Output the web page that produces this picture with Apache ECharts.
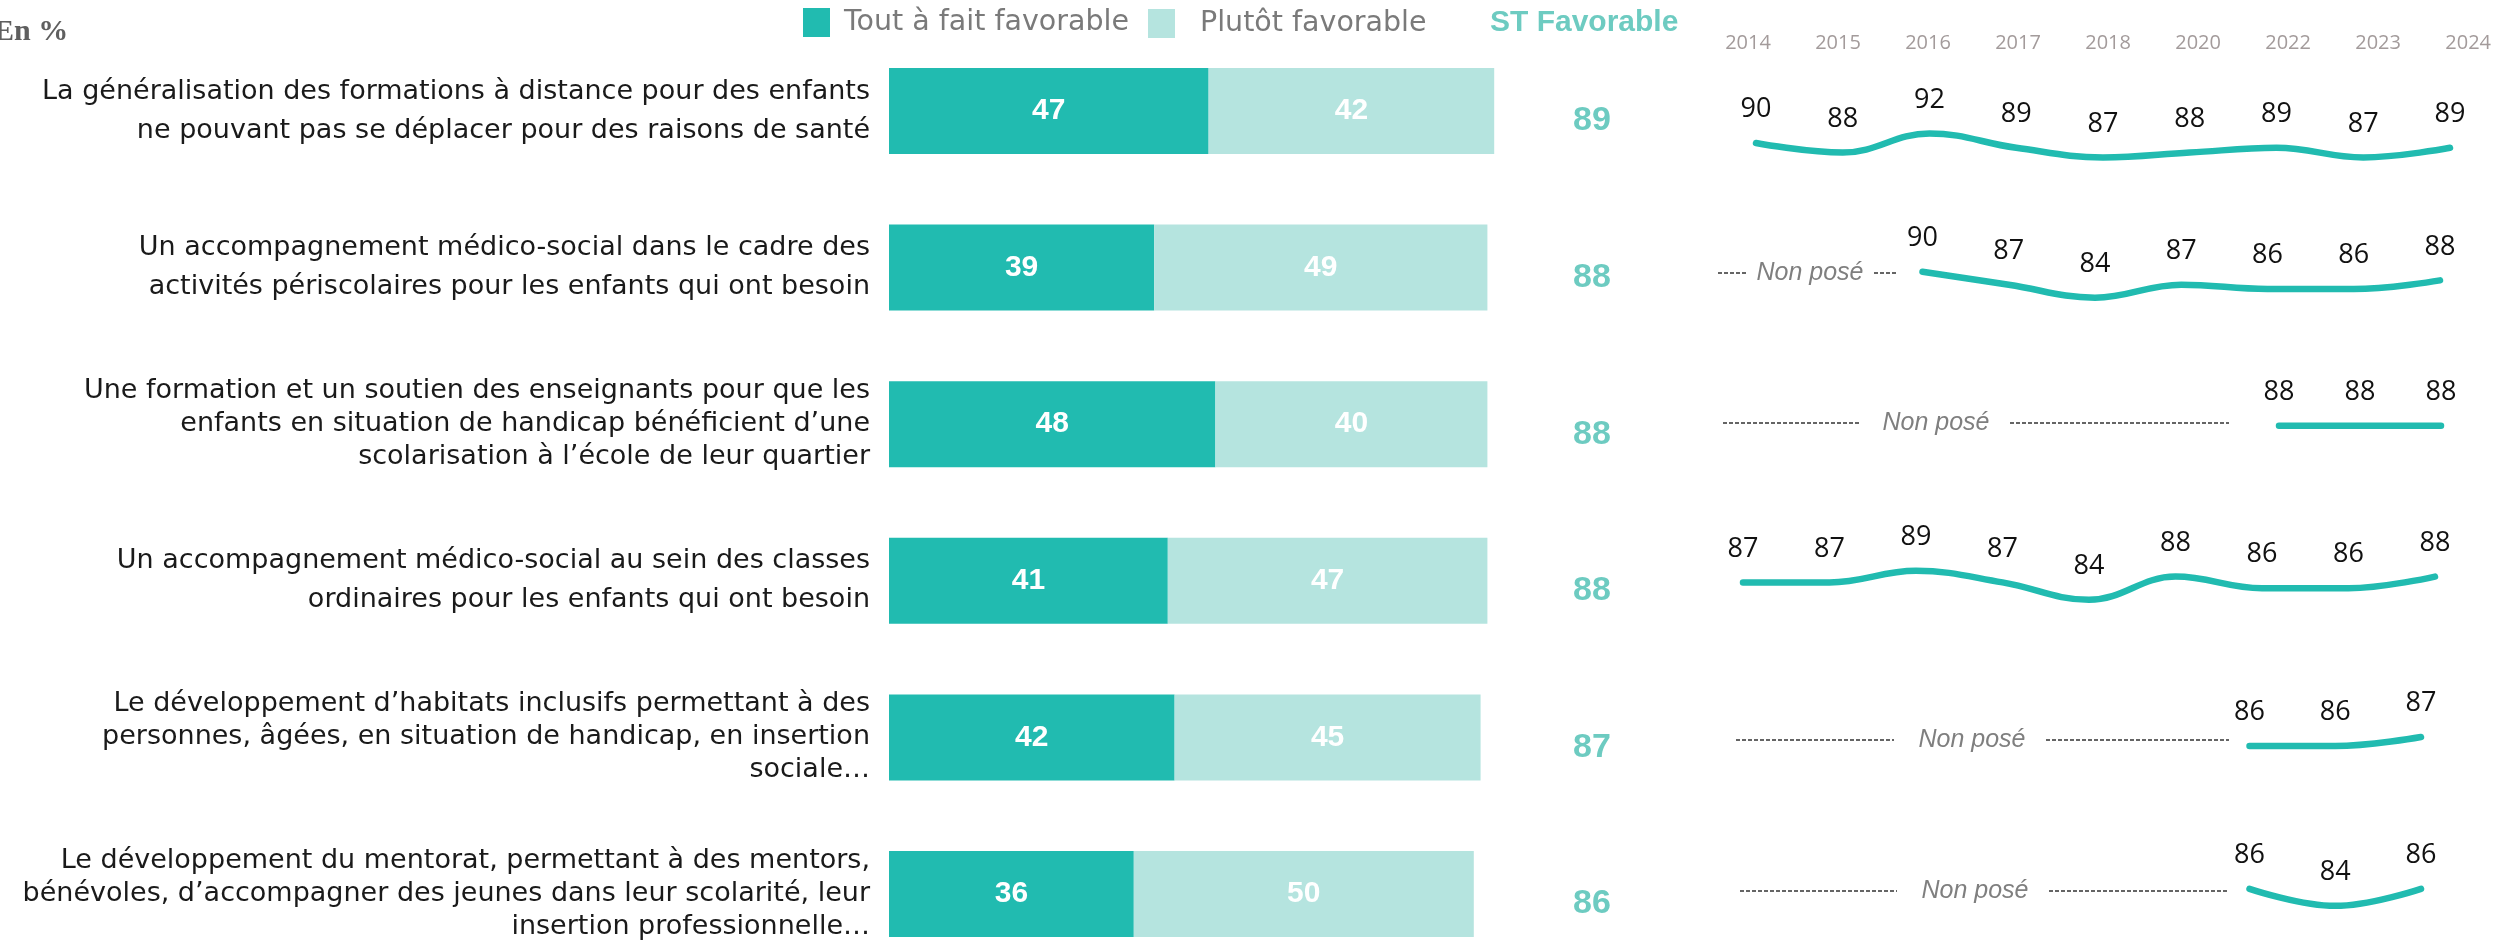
<!DOCTYPE html>
<html>
<head>
<meta charset="utf-8">
<script src="https://cdn.jsdelivr.net/npm/echarts@6/dist/echarts.min.js"></script>
<style>
  html, body { margin: 0; padding: 0; background: #fff; }
  #main { width: 2494px; height: 943px; }
</style>
</head>
<body>
<div id="main"></div>
<script>
// data
const categories = [
  "La généralisation des formations à distance pour des enfants\nne pouvant pas se déplacer pour des raisons de santé",
  "Un accompagnement médico-social dans le cadre des\nactivités périscolaires pour les enfants qui ont besoin",
  "Une formation et un soutien des enseignants pour que les\nenfants en situation de handicap bénéficient d’une\nscolarisation à l’école de leur quartier",
  "Un accompagnement médico-social au sein des classes\nordinaires pour les enfants qui ont besoin",
  "Le développement d’habitats inclusifs permettant à des\npersonnes, âgées, en situation de handicap, en insertion\nsociale…",
  "Le développement du mentorat, permettant à des mentors,\nbénévoles, d’accompagner des jeunes dans leur scolarité, leur\ninsertion professionnelle…"
];
const toutAFait = [47, 39, 48, 41, 42, 36];
const plutot = [42, 49, 40, 47, 45, 50];
const stFavorable = [89, 88, 88, 88, 87, 86];

const years = ["2014", "2015", "2016", "2017", "2018", "2020", "2022", "2023", "2024"];
const trend1 = [90, 88, 92, 89, 87, 88, 89, 87, 89];
const trend2 = [null, null, 90, 87, 84, 87, 86, 86, 88];
const trend3 = [null, null, null, null, null, null, 88, 88, 88];
const trend4 = [87, 87, 89, 87, 84, 88, 86, 86, 88];
const trend5 = [null, null, null, null, null, null, 86, 86, 87];
const trend6 = [null, null, null, null, null, null, 86, 84, 86];
const trends = [trend1, trend2, trend3, trend4, trend5, trend6];

// layout of the small trend charts (one grid per row)
const rowGrids = [
  { left: 1756, width: 694, top: 119, height: 72 },
  { left: 1750, width: 690, top: 250, height: 65 },
  { left: 1793, width: 648, top: 394, height: 68 },
  { left: 1743, width: 692, top: 536, height: 87 },
  { left: 1735, width: 686, top: 665, height: 135 },
  { left: 1735, width: 686, top: 812, height: 128 }
];
// "Non posé" annotations: text centre, dashed segments
const nonPose = [
  { y: 273, x: 1810, dashes: [[1718, 1746], [1874, 1897]] },
  { y: 423, x: 1936, dashes: [[1723, 1860], [2010, 2229]] },
  { y: 740, x: 1972, dashes: [[1736, 1894], [2046, 2229]] },
  { y: 891, x: 1975, dashes: [[1740, 1897], [2049, 2229]] }
];

const TEAL = "#21bbb0";
const LIGHT = "#b5e4df";
const TXT_FONT = "'DejaVu Sans', 'Open Sans', sans-serif";
const NUM_FONT = "'Open Sans', 'Noto Sans', sans-serif";
const BOLD_FONT = "'Liberation Sans', Arial, sans-serif";

const chart = echarts.init(document.getElementById("main"));

// bar grid: first and last category sit on the grid edges
const grids = [{ left: 889, top: 111, width: 680, height: 783 }];
const xAxes = [{ type: "value", gridIndex: 0, min: 0, max: 100, show: false }];
const yAxes = [
  {
    type: "category", gridIndex: 0, inverse: true, data: categories, boundaryGap: false,
    axisLine: { show: false }, axisTick: { show: false },
    axisLabel: {
      interval: 0, margin: 19, color: "#1a1a1a",
      formatter: (v) => (v.split("\n").length > 2 ? "{t|" + v + "}" : "{d|" + v + "}"),
      rich: {
        d: { fontSize: 27, lineHeight: 39, fontFamily: TXT_FONT, color: "#1a1a1a", align: "right" },
        t: { fontSize: 27, lineHeight: 33, fontFamily: TXT_FONT, color: "#1a1a1a", align: "right" }
      }
    }
  },
  {
    type: "category", gridIndex: 0, inverse: true, position: "right", data: categories, boundaryGap: false,
    axisLine: { show: false }, axisTick: { show: false },
    axisLabel: {
      interval: 0, margin: 23, align: "center", verticalAlign: "top", lineHeight: 20,
      formatter: (v, i) => String(stFavorable[i]),
      color: "#6dcbc1", fontWeight: "bold", fontSize: 34, fontFamily: BOLD_FONT
    }
  }
];

const barLabel = { show: true, position: "inside", color: "#fff", fontWeight: "bold", fontSize: 30, fontFamily: BOLD_FONT };
const series = [
  {
    name: "Tout à fait favorable", type: "bar", stack: "fav", barWidth: 86, clip: false,
    xAxisIndex: 0, yAxisIndex: 0, data: toutAFait,
    itemStyle: { color: TEAL }, label: barLabel
  },
  {
    name: "Plutôt favorable", type: "bar", stack: "fav", barWidth: 86, clip: false,
    xAxisIndex: 0, yAxisIndex: 0, data: plutot,
    itemStyle: { color: LIGHT }, label: barLabel
  }
];

rowGrids.forEach((g, i) => {
  grids.push(g);
  xAxes.push({
    type: "category", gridIndex: i + 1, data: years, boundaryGap: false, show: false
  });
  yAxes.push({ type: "value", gridIndex: i + 1, min: 80, max: 95, show: false });
  series.push({
    type: "line", xAxisIndex: i + 1, yAxisIndex: i + 2, data: trends[i],
    smooth: 0.4, symbol: "circle", symbolSize: 2, showSymbol: true,
    itemStyle: { color: "rgba(0,0,0,0)" },
    lineStyle: { color: TEAL, width: 6.5, cap: "round" },
    label: { show: true, position: "top", distance: 19, fontSize: 27, color: "#111", fontFamily: NUM_FONT }
  });
});

// year header
grids.push({ left: 1748, width: 721, top: 43, height: 10 });
xAxes.push({
  type: "category", gridIndex: 7, position: "top", data: years, boundaryGap: false,
  axisLine: { show: false }, axisTick: { show: false },
  axisLabel: { interval: 0, margin: 0, verticalAlign: "middle", fontSize: 20, color: "#a39b9b", fontFamily: NUM_FONT }
});
yAxes.push({ type: "value", gridIndex: 7, show: false });

const graphics = [];
nonPose.forEach((n) => {
  n.dashes.forEach((d) => {
    graphics.push({
      type: "line", shape: { x1: d[0], y1: n.y, x2: d[1], y2: n.y },
      style: { stroke: "#333", lineWidth: 1.5, lineDash: [4, 2] }
    });
  });
  graphics.push({
    type: "text", x: n.x, y: n.y,
    style: {
      text: "Non posé", fill: "#7f7f7f", font: "italic 25px 'Liberation Sans', Arial, sans-serif",
      align: "center", verticalAlign: "middle"
    }
  });
});

chart.setOption({
  animation: false,
  backgroundColor: "#fff",
  title: [
    { text: "En %", left: -6, top: 17, padding: 0,
      textStyle: { fontFamily: "'Liberation Serif', serif", fontWeight: "bold", fontSize: 30, color: "#5f5f5f" } },
    { text: "ST Favorable", left: 1490, top: 8, padding: 0,
      textStyle: { fontFamily: BOLD_FONT, fontWeight: "bold", fontSize: 30, color: "#6dcbc1" } }
  ],
  legend: [
    { data: ["Tout à fait favorable"], left: 803, top: 8, padding: 0, icon: "rect",
      itemWidth: 27, itemHeight: 29,
      textStyle: { fontSize: 28.5, color: "#7a7a7a", fontFamily: TXT_FONT, padding: [0, 0, 0, 9] } },
    { data: ["Plutôt favorable"], left: 1148, top: 9, padding: 0, icon: "rect",
      itemWidth: 27, itemHeight: 29,
      textStyle: { fontSize: 28.5, color: "#7a7a7a", fontFamily: TXT_FONT, padding: [0, 0, 0, 20] } }
  ],
  grid: grids,
  xAxis: xAxes,
  yAxis: yAxes,
  series: series,
  graphic: graphics
});
</script>
</body>
</html>
